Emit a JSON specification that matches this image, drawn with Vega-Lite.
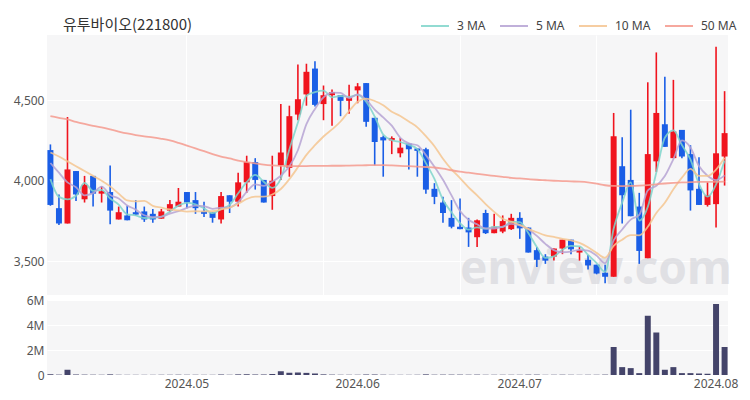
{
  "$schema": "https://vega.github.io/schema/vega-lite/v6.json",
  "background": "white",
  "padding": {"left": 13, "top": 11, "right": 22, "bottom": 5},
  "spacing": 5,
  "bounds": "flush",
  "config": {
    "font": "Noto Sans",
    "view": {"stroke": null, "fill": "#f6f6f7"},
    "axis": {"labelColor": "#555555", "labelFontSize": 12, "domain": false, "ticks": false, "gridColor": "#ffffff", "gridWidth": 1, "labelPadding": 3}
  },
  "datasets": {
    "k": [
      {"d":"2024-04-08","o":4190,"h":4225,"l":3845,"c":3850,"v":60000,"3 MA":4010,"5 MA":4110,"10 MA":4175,"50 MA":4400},
      {"d":"2024-04-09","o":3830,"h":3915,"l":3725,"c":3735,"v":30000,"3 MA":3900,"5 MA":4050,"10 MA":4150,"50 MA":4390},
      {"d":"2024-04-11","o":3735,"h":4395,"l":3735,"c":4070,"v":420000,"3 MA":3885,"5 MA":3990,"10 MA":4120,"50 MA":4380},
      {"d":"2024-04-12","o":4060,"h":4060,"l":3875,"c":3915,"v":40000,"3 MA":3907,"5 MA":3960,"10 MA":4090,"50 MA":4365},
      {"d":"2024-04-15","o":3885,"h":4030,"l":3865,"c":3975,"v":30000,"3 MA":3987,"5 MA":3909,"10 MA":4060,"50 MA":4352},
      {"d":"2024-04-16","o":4030,"h":4030,"l":3840,"c":3920,"v":25000,"3 MA":3937,"5 MA":3923,"10 MA":4030,"50 MA":4340},
      {"d":"2024-04-17","o":3920,"h":3965,"l":3865,"c":3935,"v":20000,"3 MA":3943,"5 MA":3963,"10 MA":4000,"50 MA":4330},
      {"d":"2024-04-18","o":3930,"h":4095,"l":3730,"c":3815,"v":50000,"3 MA":3890,"5 MA":3912,"10 MA":3965,"50 MA":4318},
      {"d":"2024-04-19","o":3760,"h":3840,"l":3760,"c":3805,"v":20000,"3 MA":3852,"5 MA":3890,"10 MA":3920,"50 MA":4305},
      {"d":"2024-04-22","o":3785,"h":3845,"l":3755,"c":3755,"v":15000,"3 MA":3792,"5 MA":3847,"10 MA":3878,"50 MA":4293},
      {"d":"2024-04-23","o":3805,"h":3880,"l":3785,"c":3790,"v":15000,"3 MA":3785,"5 MA":3821,"10 MA":3872,"50 MA":4283},
      {"d":"2024-04-24","o":3810,"h":3840,"l":3745,"c":3760,"v":15000,"3 MA":3769,"5 MA":3786,"10 MA":3875,"50 MA":4275},
      {"d":"2024-04-25","o":3795,"h":3825,"l":3740,"c":3760,"v":15000,"3 MA":3770,"5 MA":3775,"10 MA":3844,"50 MA":4268},
      {"d":"2024-04-26","o":3765,"h":3825,"l":3765,"c":3810,"v":20000,"3 MA":3777,"5 MA":3776,"10 MA":3833,"50 MA":4260},
      {"d":"2024-04-29","o":3815,"h":3880,"l":3805,"c":3855,"v":20000,"3 MA":3809,"5 MA":3796,"10 MA":3822,"50 MA":4250},
      {"d":"2024-04-30","o":3840,"h":3955,"l":3840,"c":3870,"v":25000,"3 MA":3846,"5 MA":3811,"10 MA":3816,"50 MA":4235},
      {"d":"2024-05-02","o":3930,"h":3930,"l":3830,"c":3865,"v":20000,"3 MA":3863,"5 MA":3832,"10 MA":3809,"50 MA":4218},
      {"d":"2024-05-03","o":3880,"h":3930,"l":3795,"c":3830,"v":20000,"3 MA":3854,"5 MA":3846,"10 MA":3811,"50 MA":4200},
      {"d":"2024-05-07","o":3810,"h":3870,"l":3775,"c":3795,"v":15000,"3 MA":3829,"5 MA":3843,"10 MA":3810,"50 MA":4183},
      {"d":"2024-05-08","o":3805,"h":3805,"l":3740,"c":3770,"v":15000,"3 MA":3799,"5 MA":3826,"10 MA":3811,"50 MA":4165},
      {"d":"2024-05-09","o":3760,"h":3930,"l":3735,"c":3905,"v":40000,"3 MA":3825,"5 MA":3833,"10 MA":3822,"50 MA":4150},
      {"d":"2024-05-10","o":3910,"h":3910,"l":3800,"c":3870,"v":20000,"3 MA":3850,"5 MA":3835,"10 MA":3834,"50 MA":4138},
      {"d":"2024-05-13","o":3870,"h":4050,"l":3840,"c":3990,"v":50000,"3 MA":3922,"5 MA":3867,"10 MA":3857,"50 MA":4125},
      {"d":"2024-05-14","o":3990,"h":4155,"l":3925,"c":4115,"v":60000,"3 MA":3991,"5 MA":3931,"10 MA":3887,"50 MA":4115},
      {"d":"2024-05-16","o":4115,"h":4140,"l":3945,"c":4005,"v":40000,"3 MA":4036,"5 MA":3977,"10 MA":3902,"50 MA":4108},
      {"d":"2024-05-17","o":4005,"h":4005,"l":3865,"c":3865,"v":40000,"3 MA":3994,"5 MA":3968,"10 MA":3901,"50 MA":4100},
      {"d":"2024-05-20","o":3905,"h":4155,"l":3820,"c":4000,"v":80000,"3 MA":3956,"5 MA":3994,"10 MA":3915,"50 MA":4095},
      {"d":"2024-05-21","o":4095,"h":4475,"l":4005,"c":4175,"v":300000,"3 MA":4013,"5 MA":4031,"10 MA":3949,"50 MA":4092},
      {"d":"2024-05-22","o":4080,"h":4465,"l":4025,"c":4400,"v":180000,"3 MA":4193,"5 MA":4089,"10 MA":4010,"50 MA":4091},
      {"d":"2024-05-23","o":4410,"h":4720,"l":4375,"c":4505,"v":200000,"3 MA":4361,"5 MA":4189,"10 MA":4083,"50 MA":4091},
      {"d":"2024-05-24","o":4535,"h":4725,"l":4465,"c":4675,"v":170000,"3 MA":4527,"5 MA":4351,"10 MA":4160,"50 MA":4091},
      {"d":"2024-05-27","o":4695,"h":4740,"l":4460,"c":4470,"v":120000,"3 MA":4549,"5 MA":4445,"10 MA":4220,"50 MA":4092},
      {"d":"2024-05-28","o":4475,"h":4590,"l":4375,"c":4530,"v":50000,"3 MA":4558,"5 MA":4516,"10 MA":4274,"50 MA":4092},
      {"d":"2024-05-29","o":4530,"h":4565,"l":4340,"c":4550,"v":30000,"3 MA":4517,"5 MA":4546,"10 MA":4318,"50 MA":4093},
      {"d":"2024-05-30","o":4530,"h":4530,"l":4400,"c":4495,"v":20000,"3 MA":4525,"5 MA":4544,"10 MA":4367,"50 MA":4093},
      {"d":"2024-05-31","o":4495,"h":4595,"l":4415,"c":4515,"v":20000,"3 MA":4520,"5 MA":4512,"10 MA":4432,"50 MA":4094},
      {"d":"2024-06-03","o":4560,"h":4605,"l":4480,"c":4585,"v":20000,"3 MA":4532,"5 MA":4535,"10 MA":4490,"50 MA":4095},
      {"d":"2024-06-04","o":4605,"h":4605,"l":4335,"c":4365,"v":40000,"3 MA":4489,"5 MA":4502,"10 MA":4509,"50 MA":4096},
      {"d":"2024-06-05","o":4390,"h":4390,"l":4095,"c":4240,"v":40000,"3 MA":4398,"5 MA":4441,"10 MA":4494,"50 MA":4097},
      {"d":"2024-06-07","o":4270,"h":4280,"l":4025,"c":4250,"v":25000,"3 MA":4286,"5 MA":4392,"10 MA":4468,"50 MA":4097},
      {"d":"2024-06-10","o":4250,"h":4275,"l":4165,"c":4265,"v":15000,"3 MA":4252,"5 MA":4341,"10 MA":4427,"50 MA":4095},
      {"d":"2024-06-11","o":4170,"h":4265,"l":4145,"c":4205,"v":15000,"3 MA":4240,"5 MA":4266,"10 MA":4401,"50 MA":4092},
      {"d":"2024-06-12","o":4230,"h":4230,"l":4070,"c":4195,"v":15000,"3 MA":4222,"5 MA":4231,"10 MA":4367,"50 MA":4090},
      {"d":"2024-06-13","o":4200,"h":4200,"l":4025,"c":4185,"v":20000,"3 MA":4196,"5 MA":4220,"10 MA":4331,"50 MA":4088},
      {"d":"2024-06-14","o":4195,"h":4205,"l":3920,"c":3945,"v":50000,"3 MA":4109,"5 MA":4159,"10 MA":4276,"50 MA":4085},
      {"d":"2024-06-17","o":3950,"h":3985,"l":3855,"c":3900,"v":25000,"3 MA":4011,"5 MA":4087,"10 MA":4214,"50 MA":4082},
      {"d":"2024-06-18","o":3865,"h":3900,"l":3740,"c":3800,"v":30000,"3 MA":3882,"5 MA":4006,"10 MA":4136,"50 MA":4075},
      {"d":"2024-06-19","o":3770,"h":3880,"l":3705,"c":3715,"v":30000,"3 MA":3805,"5 MA":3909,"10 MA":4070,"50 MA":4065},
      {"d":"2024-06-20","o":3715,"h":3890,"l":3700,"c":3700,"v":30000,"3 MA":3738,"5 MA":3812,"10 MA":4016,"50 MA":4056},
      {"d":"2024-06-21","o":3710,"h":3770,"l":3590,"c":3680,"v":25000,"3 MA":3697,"5 MA":3758,"10 MA":3959,"50 MA":4050},
      {"d":"2024-06-24","o":3650,"h":3760,"l":3590,"c":3755,"v":30000,"3 MA":3711,"5 MA":3730,"10 MA":3909,"50 MA":4043},
      {"d":"2024-06-25","o":3800,"h":3820,"l":3670,"c":3675,"v":20000,"3 MA":3703,"5 MA":3704,"10 MA":3855,"50 MA":4036},
      {"d":"2024-06-26","o":3675,"h":3795,"l":3675,"c":3715,"v":20000,"3 MA":3714,"5 MA":3704,"10 MA":3807,"50 MA":4030},
      {"d":"2024-06-27","o":3685,"h":3785,"l":3675,"c":3750,"v":20000,"3 MA":3713,"5 MA":3715,"10 MA":3764,"50 MA":4024},
      {"d":"2024-06-28","o":3700,"h":3795,"l":3695,"c":3770,"v":20000,"3 MA":3746,"5 MA":3733,"10 MA":3746,"50 MA":4018},
      {"d":"2024-07-01","o":3770,"h":3805,"l":3640,"c":3705,"v":20000,"3 MA":3743,"5 MA":3723,"10 MA":3727,"50 MA":4014},
      {"d":"2024-07-02","o":3710,"h":3710,"l":3555,"c":3555,"v":30000,"3 MA":3676,"5 MA":3699,"10 MA":3702,"50 MA":4010},
      {"d":"2024-07-03","o":3570,"h":3590,"l":3465,"c":3510,"v":30000,"3 MA":3589,"5 MA":3658,"10 MA":3681,"50 MA":4006},
      {"d":"2024-07-04","o":3530,"h":3545,"l":3485,"c":3505,"v":15000,"3 MA":3522,"5 MA":3609,"10 MA":3662,"50 MA":4003},
      {"d":"2024-07-05","o":3530,"h":3580,"l":3505,"c":3580,"v":20000,"3 MA":3531,"5 MA":3570,"10 MA":3652,"50 MA":4000},
      {"d":"2024-07-08","o":3580,"h":3635,"l":3545,"c":3635,"v":25000,"3 MA":3573,"5 MA":3557,"10 MA":3640,"50 MA":3998},
      {"d":"2024-07-09","o":3635,"h":3635,"l":3545,"c":3575,"v":20000,"3 MA":3597,"5 MA":3561,"10 MA":3630,"50 MA":3996},
      {"d":"2024-07-10","o":3555,"h":3590,"l":3505,"c":3570,"v":15000,"3 MA":3593,"5 MA":3572,"10 MA":3615,"50 MA":3994},
      {"d":"2024-07-11","o":3510,"h":3540,"l":3450,"c":3475,"v":20000,"3 MA":3540,"5 MA":3567,"10 MA":3588,"50 MA":3990},
      {"d":"2024-07-12","o":3480,"h":3480,"l":3420,"c":3425,"v":20000,"3 MA":3490,"5 MA":3536,"10 MA":3553,"50 MA":3982},
      {"d":"2024-07-15","o":3430,"h":3480,"l":3365,"c":3405,"v":30000,"3 MA":3435,"5 MA":3489,"10 MA":3523,"50 MA":3972},
      {"d":"2024-07-16","o":3405,"h":4420,"l":3405,"c":4275,"v":2240000,"3 MA":3702,"5 MA":3630,"10 MA":3596,"50 MA":3968},
      {"d":"2024-07-17","o":4090,"h":4270,"l":3735,"c":3910,"v":630000,"3 MA":3864,"5 MA":3698,"10 MA":3635,"50 MA":3967},
      {"d":"2024-07-18","o":4005,"h":4440,"l":3780,"c":3780,"v":550000,"3 MA":3990,"5 MA":3759,"10 MA":3663,"50 MA":3968},
      {"d":"2024-07-19","o":3840,"h":3925,"l":3485,"c":3565,"v":150000,"3 MA":3753,"5 MA":3788,"10 MA":3662,"50 MA":3970},
      {"d":"2024-07-22","o":3520,"h":4610,"l":3520,"c":4165,"v":4740000,"3 MA":3838,"5 MA":3940,"10 MA":3715,"50 MA":3973},
      {"d":"2024-07-23","o":4120,"h":4795,"l":4055,"c":4420,"v":3400000,"3 MA":4051,"5 MA":3969,"10 MA":3800,"50 MA":3978},
      {"d":"2024-07-24","o":4350,"h":4645,"l":4210,"c":4210,"v":420000,"3 MA":4266,"5 MA":4029,"10 MA":3864,"50 MA":3983},
      {"d":"2024-07-25","o":4140,"h":4625,"l":4140,"c":4305,"v":630000,"3 MA":4312,"5 MA":4134,"10 MA":3947,"50 MA":3987},
      {"d":"2024-07-26","o":4315,"h":4315,"l":4140,"c":4150,"v":150000,"3 MA":4221,"5 MA":4250,"10 MA":4019,"50 MA":3990},
      {"d":"2024-07-29","o":4165,"h":4220,"l":3815,"c":3940,"v":150000,"3 MA":4132,"5 MA":4206,"10 MA":4073,"50 MA":3992},
      {"d":"2024-07-30","o":3950,"h":4145,"l":3850,"c":3850,"v":120000,"3 MA":3980,"5 MA":4091,"10 MA":4030,"50 MA":3993},
      {"d":"2024-07-31","o":3850,"h":3990,"l":3840,"c":3910,"v":100000,"3 MA":3901,"5 MA":4031,"10 MA":4030,"50 MA":3993},
      {"d":"2024-08-01","o":3855,"h":4830,"l":3710,"c":4170,"v":5680000,"3 MA":3977,"5 MA":4004,"10 MA":4069,"50 MA":3993},
      {"d":"2024-08-02","o":4150,"h":4555,"l":3970,"c":4295,"v":2240000,"3 MA":4125,"5 MA":4033,"10 MA":4142,"50 MA":3994}
    ]
  },
  "vconcat": [
    {
      "width": 681,
      "height": 260,
      "title": {"text": "유투바이오(221800)", "anchor": "start", "frame": "group", "font": "Noto Sans CJK KR", "fontSize": 15, "fontWeight": "normal", "color": "#333333", "dx": 16, "offset": 2},
      "layer": [
        {
          "data": {"values": [{"t": "enview.com"}]},
          "mark": {"type": "text", "fontSize": 46, "fontWeight": "bold", "color": "#d8d8dc", "opacity": 0.7, "align": "left", "baseline": "alphabetic"},
          "encoding": {
            "x": {"datum": "2024-06-20", "type": "ordinal", "scale": {"paddingInner": 0.3, "paddingOuter": 0.05},
                  "axis": {"values": ["2024-05-02", "2024-05-28", "2024-06-20", "2024-07-12"], "grid": true, "labels": false, "ticks": false, "domain": false, "title": null, "bandPosition": 0.5}},
            "y": {"datum": 3360, "type": "quantitative", "scale": {"domain": [3292, 4903], "nice": false, "zero": false},
                  "axis": {"values": [3500, 4000, 4500], "labelExpr": "format(datum.value, ',')", "title": null, "grid": true}},
            "text": {"field": "t"}
          }
        },
        {
          "data": {"name": "k"},
          "mark": {"type": "rule", "strokeWidth": 1.6},
          "encoding": {
            "x": {"field": "d", "type": "ordinal"},
            "y": {"field": "l", "type": "quantitative"},
            "y2": {"field": "h"},
            "color": {"condition": {"test": "datum.c >= datum.o", "value": "#f0141e"}, "value": "#1a5ee6"}
          }
        },
        {
          "data": {"name": "k"},
          "mark": {"type": "bar"},
          "encoding": {
            "x": {"field": "d", "type": "ordinal"},
            "y": {"field": "o", "type": "quantitative"},
            "y2": {"field": "c"},
            "color": {"condition": {"test": "datum.c >= datum.o", "value": "#f0141e"}, "value": "#1a5ee6"}
          }
        },
        {
          "data": {"name": "k"},
          "transform": [{"fold": ["3 MA", "5 MA", "10 MA", "50 MA"], "as": ["k", "val"]}],
          "mark": {"type": "line", "strokeWidth": 1.8, "opacity": 0.85, "interpolate": "monotone"},
          "encoding": {
            "x": {"field": "d", "type": "ordinal"},
            "y": {"field": "val", "type": "quantitative"},
            "color": {"field": "k", "type": "nominal",
                      "scale": {"domain": ["3 MA", "5 MA", "10 MA", "50 MA"], "range": ["#7fd5cb", "#b6a3d4", "#f5c591", "#f59a8e"]},
                      "legend": {"orient": "none", "legendX": 373, "legendY": -24, "direction": "horizontal", "title": null, "gridAlign": "none",
                                 "symbolType": "stroke", "symbolSize": 784, "symbolStrokeWidth": 2, "labelFontSize": 12, "labelColor": "#444444",
                                 "labelOffset": 7, "columnPadding": 10}}
          }
        }
      ]
    },
    {
      "width": 681,
      "height": 75,
      "data": {"name": "k"},
      "mark": {"type": "bar", "color": "#44446a"},
      "encoding": {
        "x": {"field": "d", "type": "ordinal", "scale": {"paddingInner": 0.3, "paddingOuter": 0.05},
              "axis": {"values": ["2024-05-02", "2024-06-03", "2024-07-01", "2024-08-01"], "labelExpr": "replace(slice(datum.value, 0, 7), '-', '.')",
                       "labelAngle": 0, "grid": false, "title": null, "bandPosition": 0, "labelPadding": 3}},
        "y": {"field": "v", "type": "quantitative", "scale": {"domain": [0, 6000000], "nice": false},
              "axis": {"values": [0, 2000000, 4000000, 6000000], "labelExpr": "datum.value == 0 ? '0' : format(datum.value / 1000000, 'd') + 'M'", "title": null, "grid": true}}
      }
    }
  ]
}
